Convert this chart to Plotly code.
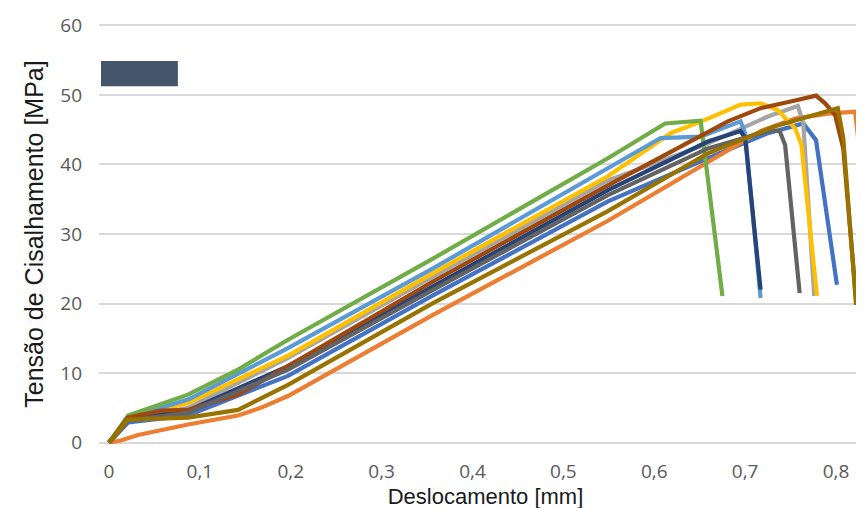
import plotly.graph_objects as go

# Displacement [mm] and shear stress [MPa] for each specimen curve
s1_x = [0, 0.021, 0.087, 0.197, 0.357, 0.549, 0.659, 0.725, 0.764, 0.778, 0.801]
s1_y = [0, 2.9, 3.9, 9.6, 21.2, 34.7, 40.9, 44.5, 45.9, 43.5, 22.7]

s2_x = [0, 0.013, 0.032, 0.087, 0.142, 0.167, 0.197, 0.357, 0.549, 0.681, 0.717, 0.755, 0.791, 0.821, 0.832, 0.857]
s2_y = [0, 0.3, 1.1, 2.6, 3.9, 5.0, 6.7, 18.4, 31.9, 41.9, 44.8, 46.6, 47.3, 47.6, 35.2, 20.8]

s3_x = [0, 0.021, 0.087, 0.197, 0.357, 0.549, 0.659, 0.725, 0.758, 0.764, 0.776]
s3_y = [0, 3.3, 5.0, 12.2, 23.9, 37.7, 43.0, 46.9, 48.4, 45.9, 21.1]

s4_x = [0, 0.021, 0.087, 0.197, 0.357, 0.549, 0.618, 0.654, 0.695, 0.717, 0.736, 0.755, 0.762, 0.779]
s4_y = [0, 3.6, 5.7, 12.5, 24.4, 38.3, 44.5, 46.3, 48.6, 48.8, 47.8, 45.2, 42.8, 21.1]

s5_x = [0, 0.021, 0.087, 0.197, 0.357, 0.549, 0.607, 0.651, 0.681, 0.695, 0.700, 0.717]
s5_y = [0, 3.6, 6.2, 13.6, 25.1, 39.5, 43.8, 44.0, 45.6, 46.2, 44.5, 20.8]

s6_x = [0, 0.021, 0.087, 0.142, 0.197, 0.357, 0.549, 0.612, 0.651, 0.675]
s6_y = [0, 3.9, 6.9, 10.5, 14.8, 26.5, 40.9, 45.9, 46.3, 21.1]

s7_x = [0, 0.021, 0.087, 0.197, 0.357, 0.549, 0.659, 0.695, 0.700, 0.717]
s7_y = [0, 3.3, 4.6, 11.0, 22.5, 36.3, 43.3, 44.8, 43.8, 22.0]

s8_x = [0, 0.021, 0.057, 0.087, 0.142, 0.197, 0.357, 0.549, 0.681, 0.717, 0.755, 0.778, 0.788, 0.799, 0.808, 0.822]
s8_y = [0, 3.6, 4.6, 4.7, 6.9, 11.0, 23.2, 37.0, 46.2, 48.1, 49.2, 49.9, 48.8, 47.1, 42.3, 20.8]

s9_x = [0, 0.021, 0.087, 0.197, 0.357, 0.549, 0.659, 0.728, 0.738, 0.744, 0.760]
s9_y = [0, 3.2, 4.3, 10.5, 22.0, 35.6, 42.3, 44.9, 44.8, 42.8, 21.5]

s10_x = [0, 0.021, 0.087, 0.142, 0.197, 0.357, 0.549, 0.659, 0.733, 0.802, 0.808, 0.822]
s10_y = [0, 3.3, 3.6, 4.7, 8.3, 20.1, 33.3, 41.6, 45.5, 48.1, 43.8, 19.8]

series = [
    (s1_x, s1_y, "#4472C4"),
    (s2_x, s2_y, "#ED7D31"),
    (s3_x, s3_y, "#A5A5A5"),
    (s4_x, s4_y, "#FFC000"),
    (s5_x, s5_y, "#5B9BD5"),
    (s6_x, s6_y, "#70AD47"),
    (s7_x, s7_y, "#264478"),
    (s8_x, s8_y, "#9E480E"),
    (s9_x, s9_y, "#636363"),
    (s10_x, s10_y, "#997300"),
]

x_ticks = [0, 0.1, 0.2, 0.3, 0.4, 0.5, 0.6, 0.7, 0.8]
y_ticks = [0, 10, 20, 30, 40, 50, 60]

fig = go.Figure()
for xs, ys, c in series:
    fig.add_trace(go.Scatter(x=xs, y=ys, mode="lines",
                             line=dict(color=c, width=4.2),
                             showlegend=False, hoverinfo="skip"))

tick_font = dict(family="Open Sans, Noto Sans, sans-serif", size=19, color="#595959")

fig.update_layout(
    width=864, height=508,
    margin=dict(l=91, r=0, t=16, b=72),
    paper_bgcolor="white", plot_bgcolor="white",
    separators=",.",
    showlegend=False,
    xaxis=dict(
        range=[-0.011, 0.8396],
        tickvals=x_ticks,
        showgrid=False, zeroline=False, showline=False,
        tickfont=tick_font, automargin=False,
        ticks="", ticklabelstandoff=14,
        title=dict(text="Deslocamento [mm]",
                   font=dict(family="Liberation Sans, Arial, sans-serif", size=22, color="#1a1a1a"),
                   standoff=0),
    ),
    yaxis=dict(
        range=[-0.2, 60.2],
        tickvals=y_ticks,
        showgrid=True, gridcolor="#D9D9D9", gridwidth=1.8,
        zeroline=False, showline=False,
        tickfont=tick_font, automargin=False,
        ticks="", ticklabelstandoff=16,
        title=dict(text="Tensão de Cisalhamento [MPa]",
                   font=dict(family="Liberation Sans, Arial, sans-serif", size=25, color="#1a1a1a"),
                   standoff=9),
    ),
    shapes=[dict(type="rect", xref="paper", yref="paper",
                 x0=0.0026, x1=0.102, y0=0.852, y1=0.912,
                 fillcolor="#44546A", line=dict(width=0), layer="above")],
)

fig.write_html("out.html")
